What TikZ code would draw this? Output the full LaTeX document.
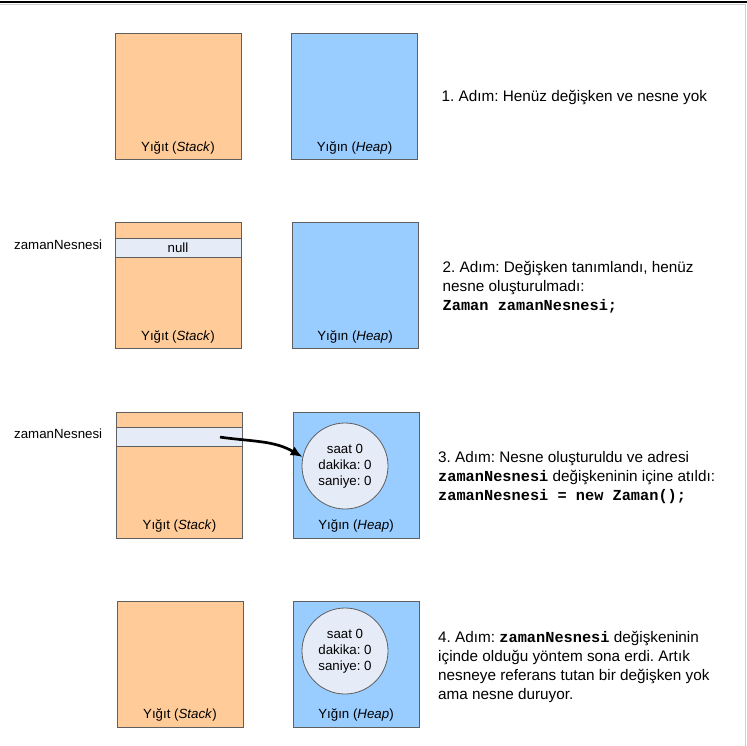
\documentclass[tikz,border=0pt]{standalone}
\usepackage{fontspec}
\setmainfont{Liberation Sans}
\setmonofont{Liberation Mono}
\usetikzlibrary{arrows.meta,positioning}
\frenchspacing
\definecolor{stackfill}{HTML}{FFCC99}
\definecolor{heapfill}{HTML}{99CCFF}
\definecolor{cellfill}{HTML}{E6ECF7}
\definecolor{edgegray}{HTML}{5F5F5F}
\definecolor{framegray}{HTML}{D0D0D0}
\tikzset{
  stackbox/.style={draw=edgegray,fill=stackfill,line width=0.8pt,
    minimum width=126pt,minimum height=126pt,inner sep=0pt},
  heapbox/.style={stackbox,fill=heapfill},
  cell/.style={draw=edgegray,fill=cellfill,line width=0.8pt,
    minimum width=126pt,minimum height=19pt,inner sep=0pt,
    font=\fontsize{13.3}{16}\selectfont},
  obj/.style={circle,draw=edgegray,fill=cellfill,line width=0.8pt,
    minimum size=86pt,inner sep=0pt,align=center,
    font=\fontsize{13.3}{16}\selectfont},
  boxlabel/.style={inner sep=0pt,font=\fontsize{13.3}{16}\selectfont},
  steptext/.style={anchor=north west,align=left,inner sep=0pt,
    font=\fontsize{15.3}{19}\selectfont},
  refarrow/.style={line width=2.7pt,-{Latex[length=12pt,width=10pt]}}
}

\begin{document}
\begin{tikzpicture}[x=1pt,y=1pt]
  \useasboundingbox (0,0) rectangle (747,-746);
  % frame
  \draw[line width=2pt] (0,-2) -- (747,-2);
  \draw[framegray] (0,-4.5) -- (745.5,-4.5) -- (745.5,-746);

  % 1. adim
  \node (st1) at (178,-96.5) [stackbox] {};
  \node (hp1) at (354.5,-96.5) [heapbox] {};
  \node at ([yshift=12pt]st1.south) [boxlabel] {Yığıt (\textit{Stack})};
  \node at ([yshift=12pt]hp1.south) [boxlabel] {Yığın (\textit{Heap})};
  \node (txt1) at (441.5,-90) [steptext] {1. Adım: Henüz değişken ve nesne yok};

  % 2. adim
  \node (st2) at (178,-285.5) [stackbox] {};
  \node (hp2) at (355,-285.5) [heapbox] {};
  \node (cell2) at ([yshift=-25.5pt]st2.north) [cell] {null};
  \node at ([yshift=12pt]st2.south) [boxlabel] {Yığıt (\textit{Stack})};
  \node at ([yshift=12pt]hp2.south) [boxlabel] {Yığın (\textit{Heap})};
  \node (var2) at (14,-245) [boxlabel,anchor=west] {zamanNesnesi};
  \node (txt2) at (442.5,-261) [steptext] {2. Adım: Değişken tanımlandı, henüz\\
    nesne oluşturulmadı:\\
    \texttt{\textbf{Zaman zamanNesnesi;}}};

  % 3. adim
  \node (st3) at (179.5,-475) [stackbox] {};
  \node (hp3) at (356,-475) [heapbox] {};
  \node (cell3) at ([yshift=-25.5pt]st3.north) [cell] {};
  \node (obj3) at (345,-466) [obj] {saat 0\\ dakika: 0\\ saniye: 0};
  \node at ([yshift=12pt]st3.south) [boxlabel] {Yığıt (\textit{Stack})};
  \node at ([yshift=12pt]hp3.south) [boxlabel] {Yığın (\textit{Heap})};
  \node (var3) at (14,-434) [boxlabel,anchor=west] {zamanNesnesi};
  \coordinate (ref3) at ([xshift=40.5pt]cell3.center);
  \draw[refarrow] (ref3) to[out=-8,in=150] (obj3.168);
  \node (txt3) at (438,-451.5) [steptext] {3. Adım: Nesne oluşturuldu ve adresi\\
    \texttt{\textbf{zamanNesnesi}} değişkeninin içine atıldı:\\
    \texttt{\textbf{zamanNesnesi = new Zaman();}}};

  % 4. adim
  \node (st4) at (180,-664) [stackbox] {};
  \node (hp4) at (356,-664) [heapbox] {};
  \node (obj4) at (345,-651) [obj] {saat 0\\ dakika: 0\\ saniye: 0};
  \node at ([yshift=12pt]st4.south) [boxlabel] {Yığıt (\textit{Stack})};
  \node at ([yshift=12pt]hp4.south) [boxlabel] {Yığın (\textit{Heap})};
  \node (txt4) at (438,-631) [steptext] {4. Adım: \texttt{\textbf{zamanNesnesi}} değişkeninin\\
    içinde olduğu yöntem sona erdi. Artık\\
    nesneye referans tutan bir değişken yok\\
    ama nesne duruyor.};
\end{tikzpicture}
\end{document}
